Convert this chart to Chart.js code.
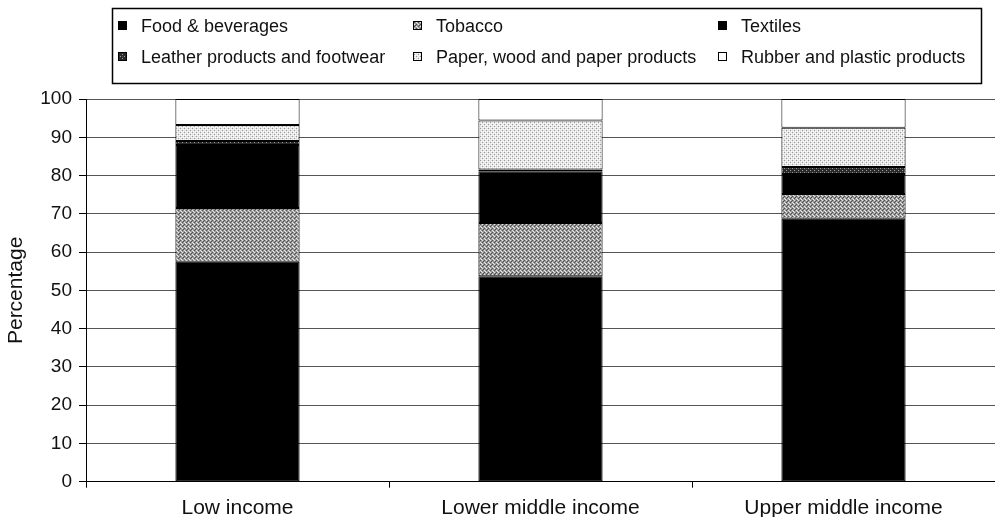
<!DOCTYPE html>
<html>
<head>
<meta charset="utf-8">
<script src="https://cdn.jsdelivr.net/npm/chart.js@4/dist/chart.umd.min.js"></script>
<style>
  html, body { margin: 0; padding: 0; background: #fff; }
  #wrap { width: 995px; height: 517px; position: relative; overflow: hidden; }
</style>
</head>
<body>
<div id="wrap"><canvas id="chart" width="995" height="517"></canvas></div>
<script>
// ---- data ----
const categories = ['Low income', 'Lower middle income', 'Upper middle income'];
const foodBeverages = [57.5, 53.7, 68.7];
const tobacco = [14.0, 13.9, 6.5];
const textiles = [16.5, 13.5, 5.2];
const leatherFootwear = [1.0, 0.5, 1.8];
const paperWood = [4.2, 12.8, 10.3];
const rubberPlastic = [6.8, 5.6, 7.5];
const yTicks = [0, 10, 20, 30, 40, 50, 60, 70, 80, 90, 100];

const FONT = "'Liberation Sans', Arial, Helvetica, sans-serif";

// small stipple patterns to imitate the printed fills
function makePattern(bg, dots, dotColor, light, lightColor) {
  const c = document.createElement('canvas');
  c.width = 4; c.height = 4;
  const g = c.getContext('2d');
  g.fillStyle = bg;
  g.fillRect(0, 0, 4, 4);
  g.fillStyle = dotColor;
  dots.forEach(([x, y]) => g.fillRect(x, y, 1, 1));
  g.fillStyle = lightColor;
  light.forEach(([x, y]) => g.fillRect(x, y, 1, 1));
  return g.createPattern(c, 'repeat');
}

const ctx = document.getElementById('chart').getContext('2d');

const tobaccoFill = makePattern('#9c9c9c', [[0, 0], [2, 2], [3, 1]], '#505050', [[2, 0], [0, 2], [1, 3]], '#e8e8e8');
const paperFill = makePattern('#e4e4e4', [[0, 0], [2, 2]], '#9a9a9a', [[1, 1], [3, 3], [1, 3], [3, 1]], '#ffffff');
const leatherFill = makePattern('#2a2a2a', [[0, 0], [2, 2]], '#9a9a9a', [[2, 0]], '#555555');

const series = [
  { label: 'Food & beverages', data: foodBeverages, fill: '#000000' },
  { label: 'Tobacco', data: tobacco, fill: tobaccoFill },
  { label: 'Textiles', data: textiles, fill: '#000000' },
  { label: 'Leather products and footwear', data: leatherFootwear, fill: leatherFill },
  { label: 'Paper, wood and paper products', data: paperWood, fill: paperFill },
  { label: 'Rubber and plastic products', data: rubberPlastic, fill: '#ffffff' }
];

const datasets = series.map(s => ({
  label: s.label,
  data: s.data,
  backgroundColor: s.fill,
  borderColor: '#000',
  borderWidth: 1,
  borderSkipped: false,
  barPercentage: 0.41,
  categoryPercentage: 1.0
}));

// legend drawn in the boxed Excel style
const boxLegend = {
  id: 'boxLegend',
  afterDraw(chart) {
    const c = chart.ctx;
    const slots = [
      [118, 26], [413, 26], [718, 26],
      [118, 57], [413, 57], [718, 57]
    ];
    c.save();
    c.strokeStyle = '#000';
    c.lineWidth = 1.5;
    c.strokeRect(112.5, 8.5, 869, 75);
    c.font = '18px ' + FONT;
    c.textBaseline = 'middle';
    chart.data.datasets.forEach((ds, i) => {
      const [x, y] = slots[i];
      c.fillStyle = ds.backgroundColor;
      c.fillRect(x, y - 5, 9, 9);
      c.strokeStyle = '#000';
      c.lineWidth = 1;
      c.strokeRect(x + 0.5, y - 4.5, 8, 8);
      c.fillStyle = '#111';
      c.fillText(ds.label, x + 23, y + 1);
    });
    c.restore();
  }
};

new Chart(ctx, {
  type: 'bar',
  data: { labels: categories, datasets },
  options: {
    responsive: false,
    animation: false,
    layout: { padding: { top: 99, right: -5, bottom: 0, left: 0 } },
    plugins: {
      legend: { display: false },
      tooltip: { enabled: false }
    },
    scales: {
      x: {
        stacked: true,
        offset: true,
        afterFit(axis) { axis.height = 35.3; },
        grid: {
          display: true,
          drawOnChartArea: false,
          offset: true,
          tickLength: 6,
          color: '#000',
          tickColor: '#000'
        },
        border: { display: true, color: '#000', width: 1 },
        ticks: { color: '#111', font: { family: FONT, size: 21 }, padding: 8 }
      },
      y: {
        stacked: true,
        min: 0,
        max: 100,
        afterBuildTicks(axis) { axis.ticks = yTicks.map(v => ({ value: v })); },
        afterFit(axis) { axis.width = 86; },
        grid: {
          color: '#555',
          tickColor: '#000',
          tickLength: 7
        },
        border: { display: true, color: '#000', width: 1 },
        ticks: { color: '#111', font: { family: FONT, size: 19 }, padding: 7 },
        title: {
          display: true,
          text: 'Percentage',
          color: '#111',
          font: { family: FONT, size: 21 },
          padding: { top: 4, bottom: 0 }
        }
      }
    }
  },
  plugins: [boxLegend]
});
</script>
</body>
</html>
